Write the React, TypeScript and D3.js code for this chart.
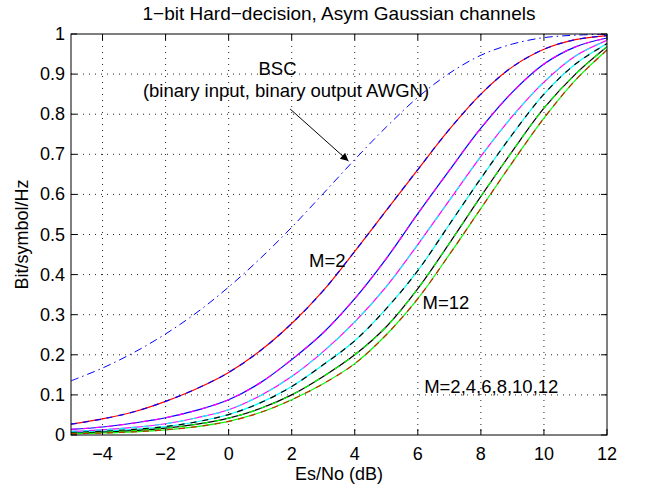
import { useEffect, useRef } from 'react';
import * as d3 from 'd3';

// Es/No grid (dB) at which the curves were read off
const snrDb = [-5, -4, -3, -2, -1, 0, 1, 2, 3, 4, 5, 6, 7, 8, 9, 10, 11, 12];

// BSC (binary input, binary output AWGN)
const bscRate = [0.135, 0.167, 0.206, 0.252, 0.306, 0.369, 0.44, 0.518, 0.602, 0.687, 0.768, 0.842, 0.902, 0.947, 0.975, 0.991, 0.997, 0.9995];

// 1-bit hard-decision rates, M = 2..12
const rateM2 = [0.027, 0.04, 0.058, 0.084, 0.116, 0.156, 0.21, 0.278, 0.36, 0.458, 0.56, 0.662, 0.762, 0.85, 0.918, 0.962, 0.986, 0.996];
const rateM4 = [0.014, 0.02, 0.03, 0.043, 0.062, 0.088, 0.13, 0.188, 0.255, 0.34, 0.44, 0.552, 0.66, 0.765, 0.855, 0.925, 0.968, 0.99];
const rateM6 = [0.009, 0.013, 0.019, 0.028, 0.043, 0.063, 0.098, 0.146, 0.208, 0.282, 0.37, 0.475, 0.585, 0.695, 0.795, 0.88, 0.945, 0.984];
const rateM8 = [0.006, 0.009, 0.014, 0.021, 0.033, 0.051, 0.08, 0.121, 0.175, 0.235, 0.315, 0.41, 0.525, 0.64, 0.75, 0.85, 0.925, 0.976];
const rateM10 = [0.004, 0.007, 0.011, 0.017, 0.027, 0.042, 0.066, 0.1, 0.146, 0.2, 0.27, 0.365, 0.478, 0.595, 0.708, 0.815, 0.9, 0.968];
const rateM12 = [0.003, 0.005, 0.008, 0.013, 0.021, 0.034, 0.056, 0.088, 0.128, 0.178, 0.25, 0.34, 0.45, 0.565, 0.68, 0.79, 0.885, 0.96];

const mCurves = [rateM2, rateM4, rateM6, rateM8, rateM10, rateM12];
const solidColors = ['#ff0000', '#0000ff', '#ff00ff', '#00ffff', '#000000', '#00ff00'];
const dashColors = ['#0000ff', '#ff00ff', '#00ffff', '#000000', '#00ff00', '#d42000'];

const xTicks = [-4, -2, 0, 2, 4, 6, 8, 10, 12];
const yTicks = [0, 0.1, 0.2, 0.3, 0.4, 0.5, 0.6, 0.7, 0.8, 0.9, 1];

const font = 'Liberation Sans, Arial, Helvetica, sans-serif';

function App() {
  const svgRef = useRef<SVGSVGElement>(null);

  useEffect(() => {
    const W = 645;
    const H = 489;
    const margin = { top: 34, right: 38, bottom: 54, left: 71 };
    const width = W - margin.left - margin.right;
    const height = H - margin.top - margin.bottom;

    const root = d3.select(svgRef.current);
    root.selectAll('*').remove();
    root.attr('width', W).attr('height', H);

    root.append('rect').attr('width', W).attr('height', H).attr('fill', '#fff');

    // arrow marker
    root.append('defs').append('marker')
      .attr('id', 'arrowhead')
      .attr('viewBox', '0 0 10 10')
      .attr('refX', 10).attr('refY', 5)
      .attr('markerWidth', 11).attr('markerHeight', 8)
      .attr('markerUnits', 'userSpaceOnUse')
      .attr('orient', 'auto')
      .append('path').attr('d', 'M0,0 L10,5 L0,10 Z').attr('fill', '#000');

    const svg = root.append('g').attr('transform', `translate(${margin.left},${margin.top})`);

    const x = d3.scaleLinear().domain([-5, 12]).range([0, width]);
    const y = d3.scaleLinear().domain([0, 1]).range([height, 0]);

    // dotted grid
    svg.append('g')
      .selectAll('line')
      .data(xTicks.filter(d => d < 12))
      .join('line')
      .attr('x1', d => x(d)).attr('x2', d => x(d))
      .attr('y1', 0).attr('y2', height)
      .attr('stroke', '#222').attr('stroke-width', 1)
      .attr('stroke-dasharray', '1,5');

    svg.append('g')
      .selectAll('line')
      .data(yTicks.filter(d => d > 0 && d < 1))
      .join('line')
      .attr('x1', 0).attr('x2', width)
      .attr('y1', d => y(d)).attr('y2', d => y(d))
      .attr('stroke', '#222').attr('stroke-width', 1)
      .attr('stroke-dasharray', '1,5');

    const line = d3.line<number>()
      .x((_, i) => x(snrDb[i]))
      .y(d => y(d))
      .curve(d3.curveCatmullRom.alpha(0.5));

    svg.append('clipPath').attr('id', 'plotclip')
      .append('rect').attr('width', width).attr('height', height);

    const curves = svg.append('g').attr('clip-path', 'url(#plotclip)');

    // BSC, dash-dot
    curves.append('path')
      .datum(bscRate)
      .attr('fill', 'none')
      .attr('stroke', '#0000ff')
      .attr('stroke-width', 1)
      .attr('stroke-dasharray', '8,4,1.5,4')
      .attr('d', line);

    mCurves.forEach((vals, i) => {
      curves.append('path')
        .datum(vals)
        .attr('fill', 'none')
        .attr('stroke', solidColors[i])
        .attr('stroke-width', 1.2)
        .attr('d', line);
      curves.append('path')
        .datum(vals)
        .attr('fill', 'none')
        .attr('stroke', dashColors[i])
        .attr('stroke-width', 1.2)
        .attr('stroke-dasharray', '6,6')
        .attr('d', line);
    });

    // axis box
    svg.append('rect')
      .attr('width', width).attr('height', height)
      .attr('fill', 'none').attr('stroke', '#000').attr('stroke-width', 1);

    // inward ticks on all four sides
    const tickLen = 6;
    const ticks = svg.append('g').attr('stroke', '#000').attr('stroke-width', 1);
    xTicks.forEach(t => {
      ticks.append('line').attr('x1', x(t)).attr('x2', x(t)).attr('y1', height).attr('y2', height - tickLen);
      ticks.append('line').attr('x1', x(t)).attr('x2', x(t)).attr('y1', 0).attr('y2', tickLen);
    });
    yTicks.forEach(t => {
      ticks.append('line').attr('x1', 0).attr('x2', tickLen).attr('y1', y(t)).attr('y2', y(t));
      ticks.append('line').attr('x1', width).attr('x2', width - tickLen).attr('y1', y(t)).attr('y2', y(t));
    });

    const fmtMinus = (s: string) => s.replace('-', '\u2212');

    svg.append('g')
      .selectAll('text')
      .data(xTicks)
      .join('text')
      .attr('x', d => x(d))
      .attr('y', height + 25)
      .attr('text-anchor', 'middle')
      .style('font-family', font).style('font-size', '18px')
      .text(d => fmtMinus(String(d)));

    svg.append('g')
      .selectAll('text')
      .data(yTicks)
      .join('text')
      .attr('x', -6)
      .attr('y', d => y(d) + 6)
      .attr('text-anchor', 'end')
      .style('font-family', font).style('font-size', '18px')
      .text(d => String(d));

    // axis labels and title
    svg.append('text')
      .attr('x', width / 2).attr('y', height + 45)
      .attr('text-anchor', 'middle')
      .style('font-family', font).style('font-size', '18px')
      .text('Es/No (dB)');

    svg.append('text')
      .attr('transform', 'rotate(-90)')
      .attr('x', -height / 2).attr('y', -43)
      .attr('text-anchor', 'middle')
      .style('font-family', font).style('font-size', '18px')
      .text('Bit/symbol/Hz');

    svg.append('text')
      .attr('x', width / 2).attr('y', -14)
      .attr('text-anchor', 'middle')
      .style('font-family', font).style('font-size', '19px')
      .text('1\u2212bit Hard\u2212decision, Asym Gaussian channels');

    // annotations
    const annot = svg.append('g').style('font-family', font).style('font-size', '18.5px');
    annot.append('text').attr('x', x(1.55)).attr('y', y(0.897)).attr('text-anchor', 'middle').text('BSC');
    annot.append('text').attr('x', x(1.82)).attr('y', y(0.843)).attr('text-anchor', 'middle')
      .text('(binary input, binary output AWGN)');
    annot.append('text').attr('x', x(2.55)).attr('y', y(0.42)).text('M=2');
    annot.append('text').attr('x', x(6.15)).attr('y', y(0.315)).text('M=12');
    annot.append('text').attr('x', x(6.2)).attr('y', y(0.105)).text('M=2,4,6,8,10,12');

    // arrow pointing to the BSC curve
    svg.append('line')
      .attr('x1', x(1.95)).attr('y1', y(0.813))
      .attr('x2', x(3.8)).attr('y2', y(0.683))
      .attr('stroke', '#000').attr('stroke-width', 1)
      .attr('marker-end', 'url(#arrowhead)');
  }, []);

  return (
    <div style={{ position: 'absolute', left: 0, top: 0 }}>
      <svg ref={svgRef} style={{ display: 'block' }}></svg>
    </div>
  );
}

export default App;
